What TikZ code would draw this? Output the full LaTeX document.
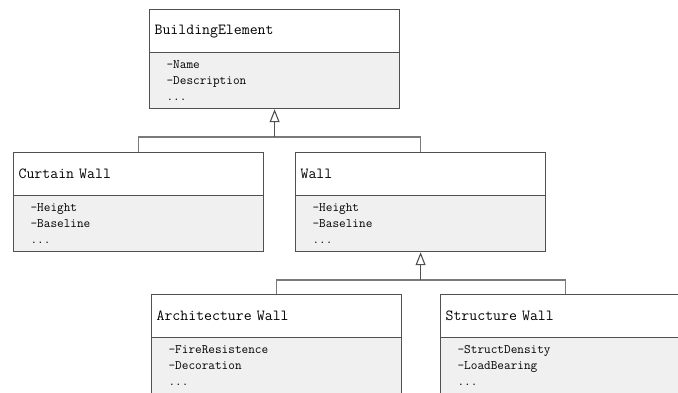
\documentclass[tikz,border=0pt]{standalone}
\usetikzlibrary{arrows.meta}
\definecolor{boxc}{HTML}{505050}
\definecolor{busc}{HTML}{7A7A7A}
\definecolor{attrc}{HTML}{F0F0F0}
\tikzset{
  titlebox/.style={draw=boxc, line width=1.2pt, fill=white, anchor=north west,
    minimum width=250pt, minimum height=43pt, text width=240pt, inner xsep=5pt,
    inner ysep=0pt, align=left, font=\ttfamily\fontsize{15.4}{16}\selectfont},
  attrbox/.style={draw=boxc, line width=1.2pt, fill=attrc, anchor=north west,
    minimum width=250pt, minimum height=56pt, text width=216pt, inner xsep=17pt,
    inner ysep=0pt, align=left, font=\ttfamily\fontsize{12.9}{16}\selectfont},
  bus/.style={draw=busc, line width=1.1pt},
  inherit/.style={draw=boxc, line width=1.2pt, -{Triangle[open, length=13pt, width=10pt, line width=1.1pt]}}
}
\begin{document}
\begin{tikzpicture}[x=1pt, y=-1pt]
\clip (0,0) rectangle (678,392);
\fill[white] (0,0) rectangle (678,392);
% BuildingElement
\node[titlebox] (be-t) at (149,9) {BuildingElement};
\node[attrbox]  (be-a) at (149,52) {-Name\\-Description\\...};
% Curtain Wall
\node[titlebox] (cw-t) at (13,152) {Curtain Wall};
\node[attrbox]  (cw-a) at (13,195) {-Height\\-Baseline\\...};
% Wall
\node[titlebox] (w-t) at (295,152) {Wall};
\node[attrbox]  (w-a) at (295,195) {-Height\\-Baseline\\...};
% Architecture Wall
\node[titlebox] (aw-t) at (151,294) {Architecture Wall};
\node[attrbox]  (aw-a) at (151,337) {-FireResistence\\-Decoration\\...};
% Structure Wall
\node[titlebox] (sw-t) at (440,294) {Structure Wall};
\node[attrbox]  (sw-a) at (440,337) {-StructDensity\\-LoadBearing\\...};
% connectors level 1
\coordinate (bus1) at (be-a.south |- 0,137);
\path[bus] (cw-t.north) |- (bus1) -| (w-t.north);
\draw[inherit] (bus1) -- (be-a.south);
% connectors level 2
\coordinate (bus2) at (w-a.south |- 0,280);
\path[bus] (aw-t.north) |- (bus2) -| (sw-t.north);
\draw[inherit] (bus2) -- (w-a.south);
\end{tikzpicture}
\end{document}
